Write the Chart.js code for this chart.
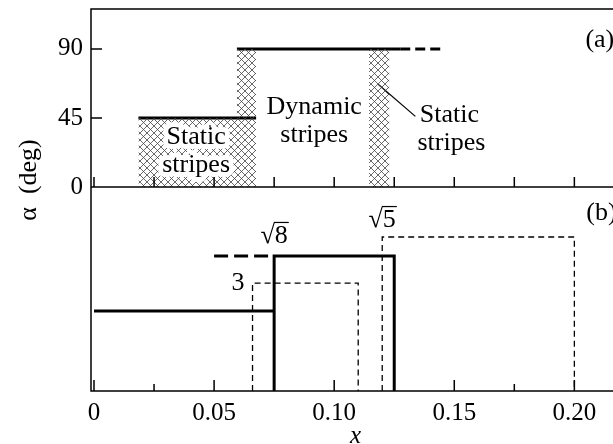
<!DOCTYPE html>
<html>
<head>
<meta charset="utf-8">
<script src="https://cdn.jsdelivr.net/npm/chart.js@4.4.1/dist/chart.umd.min.js"></script>
<style>
  html, body { margin: 0; padding: 0; overflow: hidden; background: #fff; }
  #wrap { width: 625px; height: 444px; }
</style>
</head>
<body>
<div id="wrap"><canvas id="grafico"></canvas></div>
<script>
// panel (a): static stripes (hatched) and angle lines
const staticLeftX = [0.0185, 0.0185, 0.0595, 0.0595, 0.0675, 0.0675];
const staticLeftY = [0, 45, 45, 90, 90, 0];
const staticRightX = [0.1145, 0.1145, 0.123, 0.123];
const staticRightY = [0, 90, 90, 0];
const angle45X = [0.0185, 0.0675];
const angle45Y = [45, 45];
const angle90X = [0.0595, 0.1275];
const angle90Y = [90, 90];
const angle90DashX = [0.1275, 0.1455];
const angle90DashY = [90, 90];
const pointerX = [0.1183, 0.1338];
const pointerY = [67, 46];

// panel (b)
const solidBX = [0, 0.075, 0.075, 0.075, 0.125, 0.125];
const solidBY = [0.392, 0.392, 0, 0.662, 0.662, 0];
const dashBX = [0.05, 0.075];
const dashBY = [0.662, 0.662];
const root3X = [0.066, 0.066, 0.11, 0.11];
const root3Y = [0, 0.529, 0.529, 0];
const root5X = [0.12, 0.12, 0.2, 0.2];
const root5Y = [0, 0.755, 0.755, 0];

const xTicks = [0, 0.05, 0.10, 0.15, 0.20];
const xMinorTicks = [0.025, 0.075, 0.125, 0.175];
const yTicksA = [0, 45, 90];

const SERIF = "'Liberation Serif', 'Times New Roman', Times, serif";
const pts = (xs, ys) => xs.map((x, i) => ({ x: x, y: ys[i] }));
const noPad = (s) => { s.paddingTop = 0; s.paddingBottom = 0; s.paddingLeft = 0; s.paddingRight = 0; };

const canvas = document.getElementById("grafico");
const ctx = canvas.getContext("2d");

// motivo cuadriculado para las franjas estáticas
const tile = document.createElement("canvas");
tile.width = 7;
tile.height = 7;
const tg = tile.getContext("2d");
tg.strokeStyle = "#444";
tg.lineWidth = 0.8;
tg.beginPath();
tg.moveTo(-1, -1); tg.lineTo(8, 8);
tg.moveTo(8, -1); tg.lineTo(-1, 8);
tg.stroke();
const hatch = ctx.createPattern(tile, "repeat");

const line = (data, axis, width, dash) => ({
  data: data,
  yAxisID: axis,
  borderColor: "#000",
  borderWidth: width,
  borderDash: dash || [],
  fill: false,
  pointRadius: 0,
  tension: 0,
});

const datasets = [
  { data: pts(staticLeftX, staticLeftY), yAxisID: "ya", borderWidth: 0, borderColor: "rgba(0,0,0,0)", backgroundColor: hatch, fill: "origin", pointRadius: 0 },
  { data: pts(staticRightX, staticRightY), yAxisID: "ya", borderWidth: 0, borderColor: "rgba(0,0,0,0)", backgroundColor: hatch, fill: "origin", pointRadius: 0 },
  line(pts(angle45X, angle45Y), "ya", 3),
  line(pts(angle90X, angle90Y), "ya", 3),
  line(pts(angle90DashX, angle90DashY), "ya", 3, [10, 5]),
  line(pts(pointerX, pointerY), "ya", 1.2),
  line(pts(solidBX, solidBY), "yb", 3),
  line(pts(dashBX, dashBY), "yb", 3, [14, 6]),
  line(pts(root3X, root3Y), "yb", 1.3, [6, 4]),
  line(pts(root5X, root5Y), "yb", 1.3, [6, 4]),
];

// textos sobre el gráfico (coordenadas en unidades de datos)
const notes = [
  { axis: "ya", x: 0.0425, y: 32.6, text: "Static", halo: true },
  { axis: "ya", x: 0.0425, y: 14.3, text: "stripes", halo: true },
  { axis: "ya", x: 0.0917, y: 52.2, text: "Dynamic" },
  { axis: "ya", x: 0.0917, y: 33.9, text: "stripes" },
  { axis: "ya", x: 0.148, y: 47, text: "Static" },
  { axis: "ya", x: 0.1488, y: 28.7, text: "stripes" },
  { axis: "ya", x: 0.2046, y: 95.9, text: "(a)", align: "left" },
  { axis: "yb", x: 0.06, y: 0.529, text: "3" },
  { axis: "yb", x: 0.205, y: 0.873, text: "(b)", align: "left" },
];
const roots = [
  { axis: "yb", x: 0.075, y: 0.76, digit: "8" },
  { axis: "yb", x: 0.12, y: 0.838, digit: "5" },
];

const framePlugin = {
  id: "frame",
  afterDatasetsDraw(chart) {
    const c = chart.ctx;
    const { left, right, top, bottom } = chart.chartArea;
    const sx = chart.scales.x, ya = chart.scales.ya;
    c.save();
    c.strokeStyle = "#000";
    c.lineWidth = 1.5;
    c.strokeRect(left, top, right - left, bottom - top);
    c.beginPath();
    c.moveTo(left, ya.bottom);
    c.lineTo(right, ya.bottom);
    // marcas del eje x, hacia dentro
    xTicks.forEach((v) => {
      const px = sx.getPixelForValue(v);
      c.moveTo(px, bottom); c.lineTo(px, bottom - 11);
      c.moveTo(px, ya.bottom); c.lineTo(px, ya.bottom - 10);
    });
    xMinorTicks.forEach((v) => {
      const px = sx.getPixelForValue(v);
      c.moveTo(px, bottom); c.lineTo(px, bottom - 7);
      c.moveTo(px, ya.bottom); c.lineTo(px, ya.bottom - 10);
    });
    yTicksA.forEach((v) => {
      const py = ya.getPixelForValue(v);
      c.moveTo(left, py); c.lineTo(left + 11, py);
    });
    c.stroke();

    c.font = "26px " + SERIF;
    c.textBaseline = "middle";
    c.fillStyle = "#000";
    notes.forEach((n) => {
      const px = sx.getPixelForValue(n.x);
      const py = chart.scales[n.axis].getPixelForValue(n.y);
      c.textAlign = n.align || "center";
      if (n.halo) {
        c.strokeStyle = "#fff";
        c.lineWidth = 10;
        c.lineJoin = "round";
        c.strokeText(n.text, px, py);
      }
      c.fillText(n.text, px, py);
    });

    roots.forEach((r) => {
      const px = sx.getPixelForValue(r.x);
      const py = chart.scales[r.axis].getPixelForValue(r.y);
      const wr = c.measureText("\u221A").width;
      const wd = c.measureText(r.digit).width;
      const x0 = px - (wr + wd) / 2;
      c.textAlign = "left";
      c.fillText("\u221A", x0, py);
      c.fillText(r.digit, x0 + wr, py);
      c.strokeStyle = "#000";
      c.lineWidth = 1.2;
      c.beginPath();
      c.moveTo(x0 + wr - 1, py - 13.5);
      c.lineTo(x0 + wr + wd + 1, py - 13.5);
      c.stroke();
    });

    // título del eje y
    c.save();
    c.translate(29, 180);
    c.rotate(-Math.PI / 2);
    c.textAlign = "center";
    c.font = "26px " + SERIF;
    c.fillText("\u03B1  (deg)", 0, 0);
    c.restore();
    c.restore();
  },
};

new Chart(ctx, {
  type: "line",
  data: { datasets: datasets },
  options: {
    responsive: true,
    maintainAspectRatio: false,
    animation: false,
    layout: { padding: { top: 9, right: 5, left: 0, bottom: 0 } },
    plugins: { legend: { display: false }, tooltip: { enabled: false } },
    scales: {
      x: {
        type: "linear",
        min: -0.00125,
        max: 0.219,
        grid: { display: false, drawTicks: false },
        border: { display: false },
        afterBuildTicks: (s) => { s.ticks = xTicks.map((v) => ({ value: v })); },
        ticks: {
          color: "#000",
          padding: 7,
          maxRotation: 0,
          font: { family: SERIF, size: 25 },
          callback: (v) => (v === 0 ? "0" : v.toFixed(2)),
        },
        title: {
          display: true,
          text: "x",
          color: "#000",
          padding: { top: 4, bottom: -7 },
          font: { family: SERIF, size: 25, style: "italic" },
        },
        afterFit: (s) => { s.height = 53; noPad(s); },
      },
      yb: {
        type: "linear",
        position: "left",
        stack: "panels",
        stackWeight: 204,
        min: 0,
        max: 1,
        ticks: { display: false },
        grid: { display: false, drawTicks: false },
        border: { display: false },
        afterFit: (s) => { s.width = 91; noPad(s); },
      },
      ya: {
        type: "linear",
        position: "left",
        stack: "panels",
        stackWeight: 178,
        min: 0,
        max: 116,
        afterBuildTicks: (s) => { s.ticks = yTicksA.map((v) => ({ value: v })); },
        ticks: { color: "#000", padding: 8, font: { family: SERIF, size: 25 } },
        grid: { display: false, drawTicks: false },
        border: { display: false },
        afterFit: (s) => { s.width = 91; noPad(s); },
      },
    },
  },
  plugins: [framePlugin],
});
</script>
</body>
</html>
